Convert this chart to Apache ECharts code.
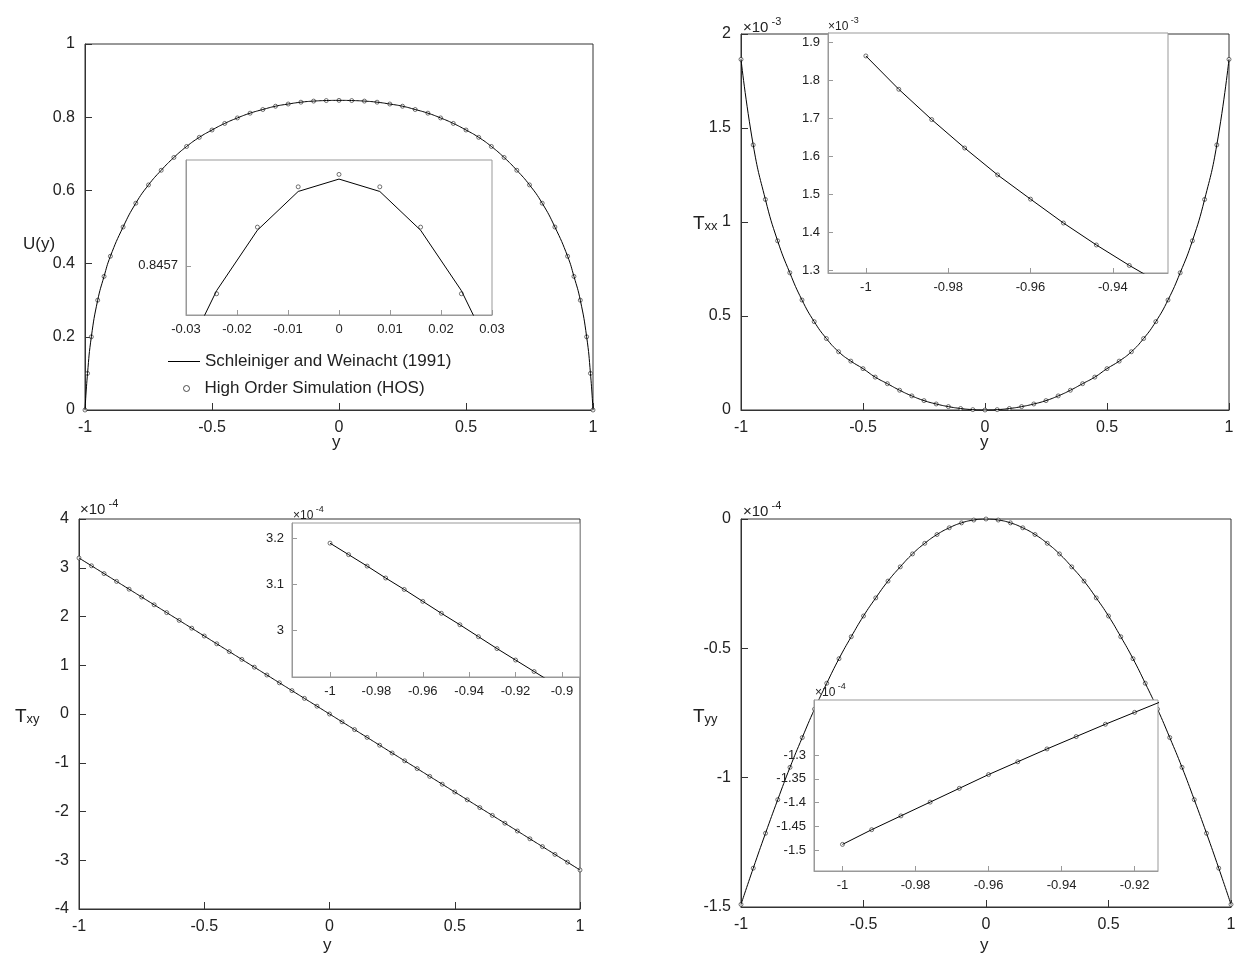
<!DOCTYPE html>
<html><head><meta charset="utf-8">
<script src="https://cdn.jsdelivr.net/npm/echarts@6/dist/echarts.min.js"></script>
<style>html,body{margin:0;background:#fff}#c{width:1249px;height:967px}</style>
</head><body><div id="c"></div>
<script>
// ---- data ----
const yU   = [-1,-0.99,-0.975,-0.95,-0.925,-0.9,-0.85,-0.8,-0.75,-0.7,-0.65,-0.6,-0.55,-0.5,-0.45,-0.4,-0.35,-0.3,-0.25,-0.2,-0.15,-0.1,-0.05,0,0.05,0.1,0.15,0.2,0.25,0.3,0.35,0.4,0.45,0.5,0.55,0.6,0.65,0.7,0.75,0.8,0.85,0.9,0.925,0.95,0.975,0.99,1];
const U    = [0,0.1,0.2,0.3,0.365,0.42,0.5,0.565,0.615,0.655,0.69,0.72,0.745,0.765,0.783,0.798,0.811,0.821,0.83,0.836,0.841,0.844,0.8455,0.846,0.8455,0.844,0.841,0.836,0.83,0.821,0.811,0.798,0.783,0.765,0.745,0.72,0.69,0.655,0.615,0.565,0.5,0.42,0.365,0.3,0.2,0.1,0];
const yA   = [-1,-0.95,-0.9,-0.85,-0.8,-0.75,-0.7,-0.65,-0.6,-0.55,-0.5,-0.45,-0.4,-0.35,-0.3,-0.25,-0.2,-0.15,-0.1,-0.05,0,0.05,0.1,0.15,0.2,0.25,0.3,0.35,0.4,0.45,0.5,0.55,0.6,0.65,0.7,0.75,0.8,0.85,0.9,0.95,1];
const Txx  = [1.865,1.41,1.12,0.9,0.73,0.585,0.47,0.38,0.31,0.26,0.22,0.175,0.14,0.105,0.075,0.05,0.032,0.018,0.008,0.002,0,0.002,0.008,0.018,0.032,0.05,0.075,0.105,0.14,0.175,0.22,0.26,0.31,0.38,0.47,0.585,0.73,0.9,1.12,1.41,1.865];
const Txy  = [3.2,3.04,2.88,2.72,2.56,2.4,2.24,2.08,1.92,1.76,1.6,1.44,1.28,1.12,0.96,0.8,0.64,0.48,0.32,0.16,0,-0.16,-0.32,-0.48,-0.64,-0.8,-0.96,-1.12,-1.28,-1.44,-1.6,-1.76,-1.92,-2.08,-2.24,-2.4,-2.56,-2.72,-2.88,-3.04,-3.2];
const Tyy  = [-1.49,-1.35,-1.215,-1.085,-0.96,-0.845,-0.735,-0.635,-0.54,-0.455,-0.375,-0.305,-0.24,-0.185,-0.135,-0.094,-0.06,-0.034,-0.015,-0.004,0,-0.004,-0.015,-0.034,-0.06,-0.094,-0.135,-0.185,-0.24,-0.305,-0.375,-0.455,-0.54,-0.635,-0.735,-0.845,-0.96,-1.085,-1.215,-1.35,-1.49];
// insets
const iUx    = [-0.032,-0.024,-0.016,-0.008,0,0.008,0.016,0.024,0.032];
const iUline = [0.84563,0.845684,0.845723,0.845748,0.845756,0.845748,0.845723,0.845684,0.84563];
const iUhx   = [-0.024,-0.016,-0.008,0,0.008,0.016,0.024];
const iUhos  = [0.845682,0.845725,0.845751,0.845759,0.845751,0.845725,0.845682];
const iXx    = [-1,-0.992,-0.984,-0.976,-0.968,-0.96,-0.952,-0.944,-0.936,-0.928];
const iXv    = [1.865,1.777,1.697,1.622,1.551,1.487,1.424,1.366,1.312,1.262];
const iXYx   = [-1,-0.992,-0.984,-0.976,-0.968,-0.96,-0.952,-0.944,-0.936,-0.928,-0.92,-0.912,-0.904];
const iXYv   = [3.19,3.165,3.14,3.114,3.089,3.063,3.037,3.012,2.986,2.96,2.935,2.91,2.885];
const iYYx   = [-1,-0.992,-0.984,-0.976,-0.968,-0.96,-0.952,-0.944,-0.936,-0.928,-0.92,-0.912,-0.904];
const iYYv   = [-1.488,-1.457,-1.428,-1.399,-1.37,-1.341,-1.314,-1.287,-1.261,-1.235,-1.21,-1.185,-1.16];

const zip=(a,b)=>a.map((v,i)=>[v,b[i]]);
const F='Liberation Sans';
const grids=[
 {left:85,top:44,width:508,height:366},
 {left:741,top:34,width:488,height:376},
 {left:79,top:519,width:501,height:390},
 {left:741,top:519,width:490,height:388},
 {left:186,top:160,width:306,height:155,zlevel:1},
 {left:828,top:33,width:340,height:240,zlevel:1},
 {left:292,top:523,width:288,height:154,zlevel:1},
 {left:814,top:700,width:344,height:171,zlevel:1}
].map(g=>Object.assign({show:true,backgroundColor:'#fff',borderColor:g.zlevel?'#999':'#333',borderWidth:1},g));
function ax(gi,o,small){
  return Object.assign({gridIndex:gi,type:'value',zlevel:small?1:0,
    axisLine:{show:true,onZero:false,lineStyle:{color:small?'#999':'#333'}},
    axisTick:{inside:true,length:small?5:7,lineStyle:{color:small?'#999':'#333'}},
    splitLine:{show:false},
    axisLabel:{color:'#222',fontFamily:F,fontSize:small?13:16,margin:small?8:10}},o);
}
const fx=v=>(+(+v).toFixed(2))+'';
const xAxis=[
 ax(0,{min:-1,max:1,interval:0.5}),
 ax(1,{min:-1,max:1,interval:0.5}),
 ax(2,{min:-1,max:1,interval:0.5}),
 ax(3,{min:-1,max:1,interval:0.5}),
 ax(4,{min:-0.03,max:0.03,interval:0.01},1),
 ax(5,{min:-1.0092,max:-0.9266},1),
 ax(6,{min:-1.0164,max:-0.8922},1),
 ax(7,{min:-1.0078,max:-0.9136},1)
];
const cx=(i,vals)=>{xAxis[i].axisLabel.customValues=vals;xAxis[i].axisTick.customValues=vals;xAxis[i].axisLabel.formatter=fx;};
cx(5,[-1,-0.98,-0.96,-0.94]);
cx(6,[-1,-0.98,-0.96,-0.94,-0.92,-0.9]);
cx(7,[-1,-0.98,-0.96,-0.94,-0.92]);
const yAxis=[
 ax(0,{min:0,max:1,interval:0.2}),
 ax(1,{min:0,max:2,interval:0.5}),
 ax(2,{min:-4,max:4,interval:1}),
 ax(3,{min:-1.5,max:0,interval:0.5}),
 ax(4,{min:0.8456683,max:0.8457683},1),
 ax(5,{min:1.292,max:1.9256},1),
 ax(6,{min:2.898,max:3.234},1),
 ax(7,{min:-1.544,max:-1.184},1)
];
const cv=(i,vals,fmt)=>{yAxis[i].axisLabel.customValues=vals;yAxis[i].axisTick.customValues=vals;if(fmt)yAxis[i].axisLabel.formatter=fmt;};
cv(4,[0.8457],()=> '0.8457');
cv(5,[1.3,1.4,1.5,1.6,1.7,1.8,1.9],v=>(+(+v).toFixed(1))+'');
cv(6,[3.0,3.1,3.2],v=>(+(+v).toFixed(1))+'');
cv(7,[-1.5,-1.45,-1.4,-1.35,-1.3],v=>(+(+v).toFixed(2))+'');
yAxis[0].axisLabel.formatter=v=>(+v.toFixed(1))+'';

const L1='Schleiniger and Weinacht (1991)', L2='High Order Simulation (HOS)';
function pair(gi,data,hos,small,name){
  const z=small?1:0;
  return [
   {type:'line',name:name?L1:undefined,xAxisIndex:gi,yAxisIndex:gi,zlevel:z,data:data,symbol:'none',smooth:!small,color:'#000',lineStyle:{color:'#000',width:1},clip:true,silent:true,animation:false},
   {type:'scatter',name:name?L2:undefined,xAxisIndex:gi,yAxisIndex:gi,zlevel:z,data:hos,symbol:'circle',symbolSize:4,itemStyle:{color:'#fff',borderColor:'#222',borderWidth:0.8},clip:true,silent:true,animation:false}
  ];
}
const series=[
 ...pair(0,zip(yU,U),zip(yU,U),0,true),
 ...pair(1,zip(yA,Txx),zip(yA,Txx)),
 ...pair(2,zip(yA,Txy),zip(yA,Txy)),
 ...pair(3,zip(yA,Tyy),zip(yA,Tyy)),
 ...pair(4,zip(iUx,iUline),zip(iUhx,iUhos),1),
 ...pair(5,zip(iXx,iXv),zip(iXx.slice(0,9),iXv.slice(0,9)),1),
 ...pair(6,zip(iXYx,iXYv),zip(iXYx.slice(0,12),iXYv.slice(0,12)),1),
 ...pair(7,zip(iYYx,iYYv),zip(iYYx.slice(0,11),iYYv.slice(0,11)),1)
];
const T=(x,y,t,fs)=>({type:'text',left:x,top:y,zlevel:2,style:{text:t,fontFamily:F,fontSize:fs||17,fill:'#222'}});
const R=(x,y,main,sub,sup,small)=>({type:'text',left:x,top:y,zlevel:2,style:{text:'{m|'+main+'}'+(sub?'{s|'+sub+'}':'')+(sup?'{p|'+sup+'}':''),rich:{m:{fontFamily:F,fontSize:sup?(small?12:15):19,fill:'#222',verticalAlign:'bottom'},s:{fontFamily:F,fontSize:13,fill:'#222',padding:[8,0,0,0]},p:{fontFamily:F,fontSize:small?9:11,fill:'#222',padding:[0,0,8,0]}}}});
const graphic=[
 T(23,236,'U(y)'),
 R(693,214,'T','xx'),R(15,707,'T','xy'),R(693,707,'T','yy'),
 T(332,434,'y'),T(980,434,'y'),T(323,937,'y'),T(980,937,'y'),
 R(743,16,'×10','',' -3'),R(80,498,'×10','',' -4'),R(743,500,'×10','',' -4'),
 R(828,16,'×10','',' -3',1),R(293,505,'×10','',' -4',1),R(815,682,'×10','',' -4',1)
];
const lt={fontFamily:F,fontSize:17,color:'#222'};
const chart=echarts.init(document.getElementById('c'),null,{renderer:'canvas'});
chart.setOption({animation:false,backgroundColor:'#fff',grid:grids,xAxis,yAxis,series,graphic,
 legend:[
  {left:163,top:348,itemWidth:32,itemHeight:10,itemGap:0,textStyle:lt,data:[{name:L1,icon:'path://M0,0H32V1H0Z'}],zlevel:2,selectedMode:false},
  {left:178,top:375,itemWidth:6,itemHeight:6,textStyle:Object.assign({padding:[0,0,0,10]},lt),data:[{name:L2,icon:'circle',itemStyle:{color:'#fff',borderColor:'#222',borderWidth:1}}],zlevel:2,selectedMode:false}
 ]
});
</script></body></html>
